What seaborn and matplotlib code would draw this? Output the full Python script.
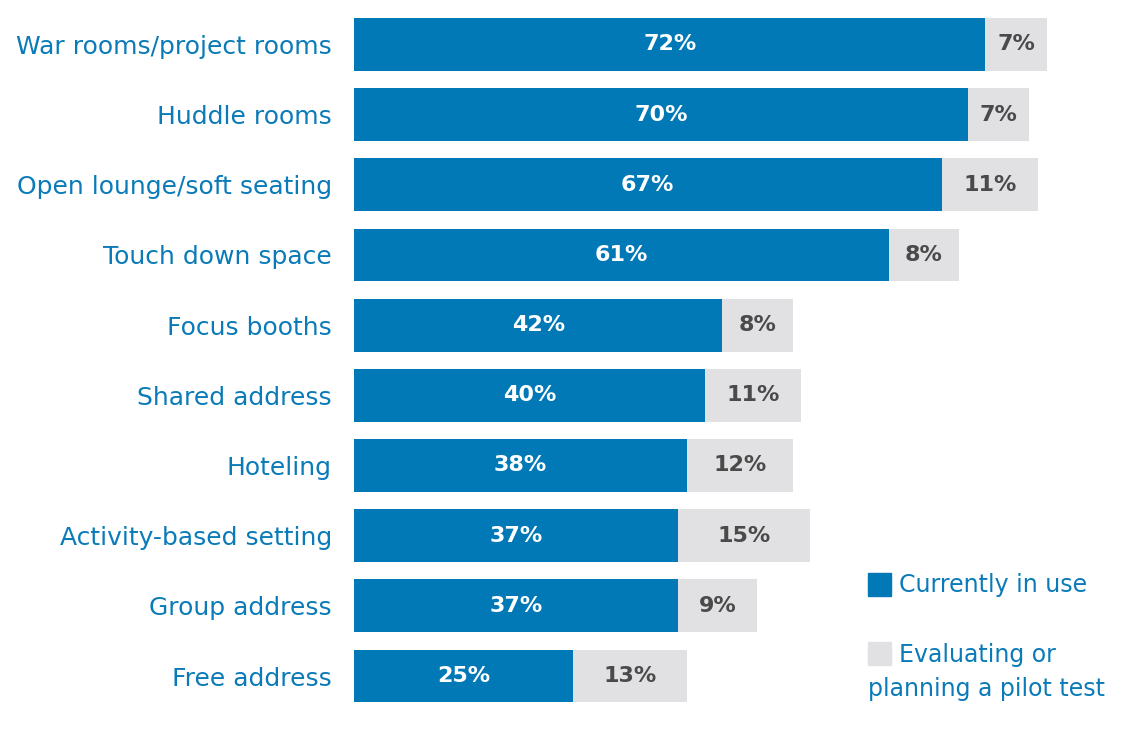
import matplotlib
matplotlib.use("Agg")
import matplotlib.pyplot as plt
from matplotlib.patches import Rectangle
import pandas as pd
import seaborn as sns

# values
categories = ["War rooms/project rooms", "Huddle rooms", "Open lounge/soft seating",
              "Touch down space", "Focus booths", "Shared address", "Hoteling",
              "Activity-based setting", "Group address", "Free address"]
current = [72, 70, 67, 61, 42, 40, 38, 37, 37, 25]
evaluating = [7, 7, 11, 8, 8, 11, 12, 15, 9, 13]

BLUE = "#0079b6"
GRAY = "#e1e1e3"
TEXT_BLUE = "#0a7bb8"

df = pd.DataFrame({"cat": categories, "current": current, "evaluating": evaluating})
df["total"] = df["current"] + df["evaluating"]

sns.set_style("white")
fig = plt.figure(figsize=(11.36, 7.36), dpi=100)
ax = fig.add_axes([354 / 1136, 0, 782 / 1136, 1])

# stacked: total in gray underneath, current in blue on top
sns.barplot(data=df, x="total", y="cat", color=GRAY, orient="h", width=0.755,
            saturation=1, linewidth=0, ax=ax)
sns.barplot(data=df, x="current", y="cat", color=BLUE, orient="h", width=0.755,
            saturation=1, linewidth=0, ax=ax)

for i, (c, e) in enumerate(zip(current, evaluating)):
    ax.text(c / 2, i, f"{c}%", ha="center", va="center", color="white",
            fontsize=16, fontweight="bold")
    ax.text(c + e / 2, i, f"{e}%", ha="center", va="center", color="#4a4a4a",
            fontsize=16, fontweight="bold")

ax.set_xlim(0, 782 / 8.77)
ax.set_ylim(9.855, -0.634)
ax.set_xlabel("")
ax.set_ylabel("")
ax.set_xticks([])
sns.despine(ax=ax, left=True, bottom=True)
ax.tick_params(axis="y", length=0, pad=16, labelsize=18, labelcolor=TEXT_BLUE)

# legend
fig.add_artist(Rectangle((868 / 1136, 1 - 596 / 736), 23 / 1136, 23 / 736,
                         transform=fig.transFigure, color=BLUE))
fig.add_artist(Rectangle((868 / 1136, 1 - 665 / 736), 23 / 1136, 23 / 736,
                         transform=fig.transFigure, color=GRAY))
fig.text(899 / 1136, 1 - 585 / 736, "Currently in use", color=TEXT_BLUE,
         fontsize=17, va="center", ha="left")
fig.text(899 / 1136, 1 - 655 / 736, "Evaluating or", color=TEXT_BLUE,
         fontsize=17, va="center", ha="left")
fig.text(868 / 1136, 1 - 689 / 736, "planning a pilot test", color=TEXT_BLUE,
         fontsize=17, va="center", ha="left")

fig.savefig("out.png", dpi=100)
